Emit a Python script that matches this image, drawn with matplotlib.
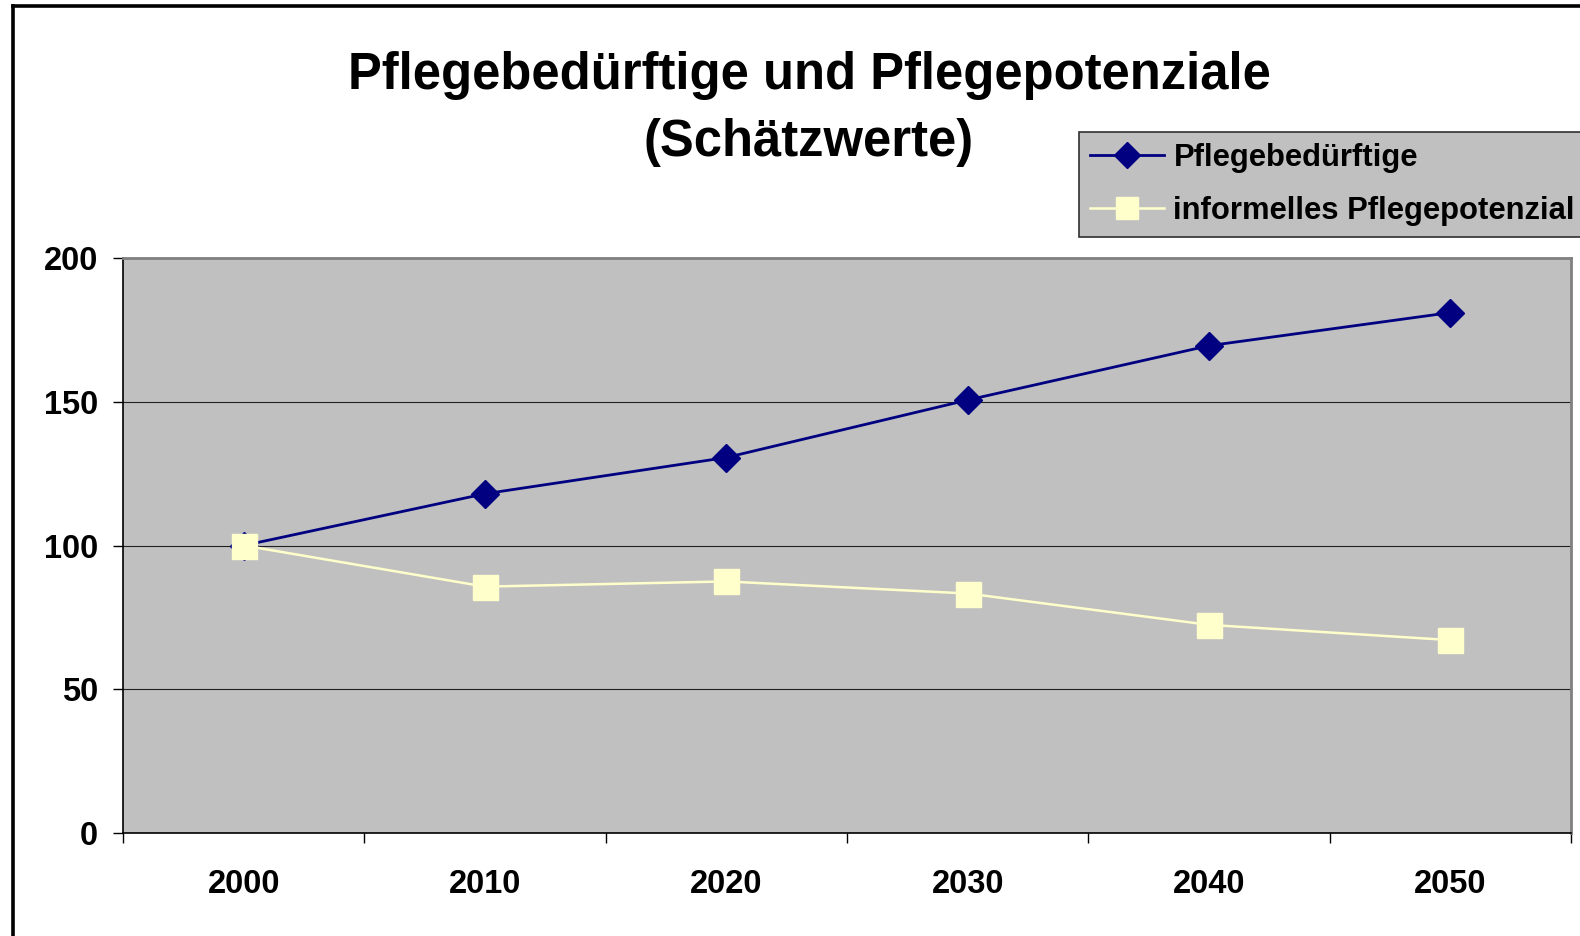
import matplotlib
matplotlib.use("Agg")
import matplotlib.pyplot as plt
from matplotlib.lines import Line2D

plt.rcParams['font.family'] = ['Liberation Sans', 'DejaVu Sans']
plt.rcParams['font.weight'] = 'bold'

years = ['2000', '2010', '2020', '2030', '2040', '2050']
pflegebeduerftige = [100, 118, 130.6, 150.6, 169.5, 181]
informell = [100, 85.7, 87.5, 83.3, 72.4, 67.1]
y_ticks = [0, 50, 100, 150, 200]

W, H = 1580, 936
fig = plt.figure(figsize=(W / 100, H / 100), dpi=100)

# outer chart frame (left and top edges visible)
fig.add_artist(Line2D([13 / W, 13 / W], [0, 1 - 6 / H], transform=fig.transFigure,
                      color='black', lw=2.6, solid_capstyle='projecting'))
fig.add_artist(Line2D([13 / W, 1], [1 - 6 / H, 1 - 6 / H], transform=fig.transFigure,
                      color='black', lw=2.6, solid_capstyle='projecting'))

ax = fig.add_axes([123 / W, 1 - 833 / H, 1448 / W, 575 / H])
ax.set_facecolor('#c0c0c0')

x = list(range(len(years)))
ax.plot(x, pflegebeduerftige, color='#000080', lw=2.0, marker='D', ms=14.5,
        markeredgecolor='#000080', label='Pflegebedürftige', zorder=3)
ax.plot(x, informell, color='#ffffcc', lw=1.8, marker='s', ms=18,
        markeredgecolor='#ffffcc', label='informelles Pflegepotenzial', zorder=4)

ax.set_xlim(-0.5, len(years) - 0.5)
ax.set_ylim(0, 200)
ax.set_yticks(y_ticks)
ax.set_yticklabels([str(v) for v in y_ticks], fontsize=23.5, fontweight='bold')
ax.tick_params(axis='y', direction='out', length=7, width=1, pad=11, color='black')

ax.set_xticks([i - 0.5 for i in range(len(years) + 1)])
ax.set_xticklabels([])
ax.set_xticks(x, minor=True)
ax.set_xticklabels(years, minor=True, fontsize=23.5, fontweight='bold')
ax.tick_params(axis='x', which='major', direction='out', length=7, width=1, color='black')
ax.tick_params(axis='x', which='minor', length=0, pad=26)

ax.yaxis.grid(True, color='#202020', lw=0.8)
ax.set_axisbelow(True)

ax.spines['left'].set_color('black')
ax.spines['bottom'].set_color('black')
ax.spines['left'].set_linewidth(1.2)
ax.spines['bottom'].set_linewidth(1.2)
ax.spines['top'].set_color('#808080')
ax.spines['right'].set_color('#808080')
ax.spines['top'].set_linewidth(2)
ax.spines['right'].set_linewidth(2)

# title as two lines so the long first line stays clear of the legend
fig.text(809 / W, 1 - 89 / H, 'Pflegebedürftige und Pflegepotenziale',
         ha='center', va='baseline', fontsize=36.5, fontweight='bold')
fig.text(809 / W, 1 - 156 / H, '(Schätzwerte)',
         ha='center', va='baseline', fontsize=36.5, fontweight='bold')

leg = ax.legend(loc='upper left', bbox_to_anchor=(1079 / W, 1 - 132 / H),
                bbox_transform=fig.transFigure, borderaxespad=0,
                frameon=True, fancybox=False, facecolor='#c0c0c0', edgecolor='#303030',
                handlelength=2.4, handletextpad=0.3, labelspacing=0.75,
                borderpad=0.35, markerscale=0.9, prop={'weight': 'bold', 'size': 22.3})
leg.get_frame().set_linewidth(1.2)
leg.get_frame().set_alpha(1)

fig.savefig('out.png', dpi=100)
